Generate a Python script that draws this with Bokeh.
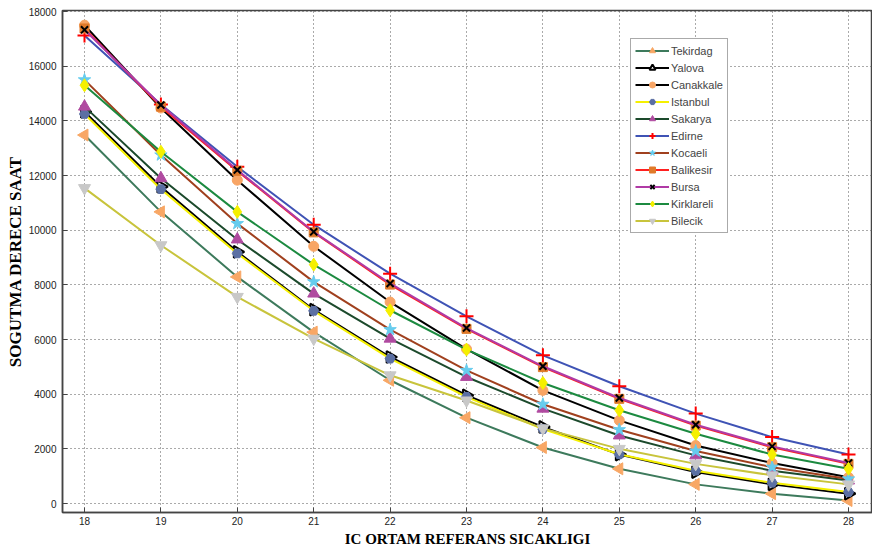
import math
from bokeh.plotting import figure
from bokeh.models import Legend, LegendItem, FixedTicker, Range1d
from bokeh.embed import file_html
from bokeh.resources import INLINE

temps = [18, 19, 20, 21, 22, 23, 24, 25, 26, 27, 28]

tekirdag   = [13480, 10670, 8290, 6270, 4510, 3140, 2050, 1270, 700, 360, 110]
yalova     = [14330, 11590, 9210, 7090, 5360, 3960, 2800, 1790, 1150, 700, 360]
canakkale  = [17500, 14470, 11830, 9410, 7370, 5650, 4140, 3040, 2120, 1480, 960]
istanbul   = [14250, 11500, 9150, 7050, 5300, 3900, 2720, 1800, 1200, 760, 420]
sakarya    = [14520, 11900, 9660, 7680, 6030, 4630, 3470, 2490, 1760, 1200, 840]
edirne     = [17120, 14600, 12320, 10200, 8410, 6850, 5420, 4290, 3290, 2430, 1790]
kocaeli    = [15500, 12750, 10240, 8110, 6360, 4870, 3630, 2700, 1920, 1330, 900]
balikesir  = [17380, 14520, 12170, 9920, 8010, 6390, 4990, 3830, 2850, 2060, 1450]
bursa      = [17330, 14580, 12200, 9940, 8050, 6420, 5020, 3860, 2880, 2090, 1480]
kirklareli = [15300, 12870, 10670, 8740, 7070, 5630, 4410, 3410, 2550, 1790, 1270]
bilecik    = [11540, 9450, 7560, 6030, 4690, 3770, 2750, 2000, 1450, 1030, 700]

names = ["Tekirdag", "Yalova", "Canakkale", "Istanbul", "Sakarya", "Edirne",
         "Kocaeli", "Balikesir", "Bursa", "Kirklareli", "Bilecik"]
values = [tekirdag, yalova, canakkale, istanbul, sakarya, edirne,
          kocaeli, balikesir, bursa, kirklareli, bilecik]

x_ticks = list(range(18, 29))
y_ticks = list(range(0, 18001, 2000))

x_title = "IC ORTAM REFERANS SICAKLIGI"
y_title = "SOGUTMA DERECE SAAT"

# style: line colour, marker, fill, edge, size, angle
styles = [
    ("#3d7a5c", "triangle", "#f8a765", None, 12, math.pi / 2),
    ("#000000", "triangle", "#ffffff", "#000000", 12, -math.pi / 2),
    ("#000000", "circle", "#f8a565", None, 10, 0),
    ("#f5f000", "hex", "#5b6fa3", None, 10, 0),
    ("#1c4a2c", "triangle", "#b04aa0", None, 12, 0),
    ("#3f53b5", "cross", "#ff0000", "#ff0000", 14, 0),
    ("#a0401e", "star", "#66ccee", None, 13, 0),
    ("#ff2020", "square", "#e07a2a", None, 9, 0),
    ("#b03aa5", "x", "#000000", "#000000", 10, 0),
    ("#1c8a40", "diamond", "#f5f000", None, 13, 0),
    ("#c8c43c", "inverted_triangle", "#c8c8c8", None, 12, 0),
]

p = figure(width=872, height=550, output_backend="svg", toolbar_location=None,
           x_range=Range1d(17.712, 28.314), y_range=Range1d(-329, 18037),
           min_border_left=62, min_border_right=0, min_border_top=10, min_border_bottom=38)

p.outline_line_color = "#444444"
p.outline_line_width = 1.5

items = []
for name, vals, st in zip(names, values, styles):
    lc, mk, fc, ec, sz, ang = st
    r1 = p.line(temps, vals, line_color=lc, line_width=2)
    if ec is None:
        r2 = p.scatter(temps, vals, marker=mk, size=sz, fill_color=fc, line_color=fc,
                       line_width=1, angle=ang)
    else:
        r2 = p.scatter(temps, vals, marker=mk, size=sz, fill_color=fc, line_color=ec,
                       line_width=2, angle=ang)
    items.append(LegendItem(label=name, renderers=[r1, r2]))

legend = Legend(items=items, location=(568, 279))
legend.label_text_font = "Liberation Sans"
legend.label_text_font_size = "11px"
legend.label_height = 15
legend.glyph_height = 15
legend.glyph_width = 34
legend.spacing = 2
legend.padding = 4
legend.margin = 0
legend.label_standoff = 2
legend.border_line_color = "#555555"
legend.border_line_width = 1
legend.background_fill_alpha = 1.0
p.add_layout(legend)

p.xaxis.ticker = FixedTicker(ticks=x_ticks)
p.yaxis.ticker = FixedTicker(ticks=y_ticks)
for ax in (p.xaxis, p.yaxis):
    ax.major_tick_in = 5
    ax.major_tick_out = 0
    ax.minor_tick_in = 0
    ax.minor_tick_out = 0
    ax.axis_line_color = "#444444"
    ax.axis_line_width = 1.5
    ax.major_tick_line_color = "#444444"
    ax.major_label_text_font = "Liberation Sans"
    ax.major_label_text_font_size = "10px"
    ax.major_label_text_color = "#222222"
    ax.axis_label_text_font = "Liberation Serif"
    ax.axis_label_text_font_style = "bold"
    ax.axis_label_text_color = "#000000"

p.xaxis.axis_label = x_title
p.xaxis.axis_label_text_font_size = "15px"
p.xaxis.major_label_standoff = 4
p.xaxis.axis_label_standoff = 3

p.yaxis.axis_label = y_title
p.yaxis.axis_label_text_font_size = "17px"
p.yaxis.major_label_standoff = 6
p.yaxis.axis_label_standoff = 1

p.grid.grid_line_color = "#555555"
p.grid.grid_line_dash = "1 3"
p.grid.grid_line_width = 1

open("out.html", "w").write(file_html(p, INLINE))
